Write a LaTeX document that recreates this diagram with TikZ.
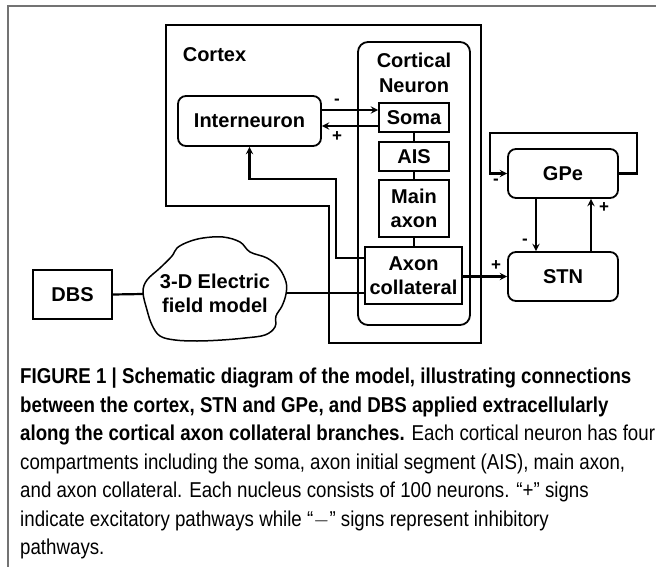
\documentclass[tikz,border=0pt]{standalone}
\usepackage{fontspec}
\setmainfont{Liberation Sans}
\newfontfamily\capfont[FakeStretch=0.87]{Liberation Sans}
\usetikzlibrary{calc}
\usetikzlibrary{arrows}

\tikzset{
  blk/.style={draw,line width=1.8pt,rectangle,align=center,inner sep=0pt,
    font=\bfseries\fontsize{20}{24}\selectfont},
  rblk/.style={blk,rounded corners=8pt},
  conn/.style={line width=2.2pt},
  sgn/.style={font=\bfseries\fontsize{17}{17}\selectfont,inner sep=0pt}
}

\begin{document}
\begin{tikzpicture}[>=stealth,x=1pt,y=-1pt]
                        \useasboundingbox (0,0) rectangle (656,567);
                        % frame
                        \draw[gray!90!black,line width=2pt] (7.5,567) -- (7.5,6) -- (656,6);
                        % cortex
                        \draw[line width=1.8pt] (166,25) -- (481,25) -- (481,343) -- (329,343) -- (329,206) -- (166,206) -- cycle;
                        \node[font=\bfseries\fontsize{20}{24}\selectfont] (cortex) at (214.5,55) {Cortex};
                        \draw[line width=1.8pt,rounded corners=10pt] (358,42) rectangle (470,325);
                        \node[font=\bfseries\fontsize{20}{25}\selectfont,align=center] (cnlab) at (414,73) {Cortical\\Neuron};
                        \node[rblk,minimum width=143pt,minimum height=50pt] (inter) at (249.5,121) {Interneuron};
                        \node[blk,minimum width=70pt,minimum height=29pt] (soma) at (414,117.5) {Soma};
                        \node[blk,minimum width=70pt,minimum height=29pt] (ais) at (414,156.5) {AIS};
                        \node[blk,minimum width=70pt,minimum height=57pt] (mainax) at (414,208.5) {Main\\axon};
                        \node[blk,minimum width=97pt,minimum height=57pt] (axcol) at (413.5,275.5) {Axon\\collateral};
                        \draw[conn] (soma) -- (ais);
                        \draw[conn] (ais) -- (mainax);
                        \draw[conn] (mainax) -- (axcol.north -| mainax);
                        % interneuron <-> soma
                        \draw[conn,->] (inter.east |- 0,110) -- (soma.west |- 0,110);
                        \draw[conn,->] (soma.west |- 0,126) -- (inter.east |- 0,126);
                        \node[sgn] (m1) at (337,102) {-};
                        \node[sgn] (p1) at (337,137) {+};
                        \draw[conn,->] (axcol.west |- 0,258) -| (336,179) -| (inter.south);
                        % DBS and field
                        \node[blk,minimum width=79pt,minimum height=49pt] (dbs) at (72.5,294.5) {DBS};
                        \draw[line width=1.5pt] plot[smooth cycle,tension=0.6] coordinates {(143,292) (147,280) (160,268) (172,256) (177,248) (188,242) (203,238) (223,237) (240,242) (250,252) (267,258) (279,268) (286,282) (286,294) (282,306) (276,316) (275,327) (265,335) (245,338) (222,340) (197,341) (175,340) (160,336) (152,325) (147,310)};
                        \node[font=\bfseries\fontsize{20}{24}\selectfont,align=center] (field) at (215,293) {3-D Electric\\field model};
                        \coordinate (cloudw) at (143,294);
                        \coordinate (cloude) at (286,293);
                        \draw[conn] (dbs.east) -- (cloudw);
                        \draw[conn] (cloude) -- (cloude -| axcol.west);
                        % basal ganglia
                        \node[rblk,minimum width=110pt,minimum height=49pt] (gpe) at (563,173.5) {GPe};
                        \node[rblk,minimum width=110pt,minimum height=49pt] (stn) at (563,276.5) {STN};
                        \draw[conn,->] (axcol.east |- stn.west) -- (stn.west);
                        \node[sgn] (p2) at (496,266) {+};
                        \draw[conn,->] (gpe.south -| 536,0) -- (stn.north -| 536,0);
                        \node[sgn] (m2) at (525,242) {-};
                        \draw[conn,->] (stn.north -| 591,0) -- (gpe.south -| 591,0);
                        \node[sgn] (p3) at (604,208) {+};
                        \draw[conn,->] (gpe.east) -- (637,173.5) |- (490,133) |- (gpe.west);
                        \node[sgn] (m3) at (496,182) {-};
                        % caption
                        \node[anchor=north west,align=left,inner sep=0pt,font=\capfont\fontsize{21.5}{28.5}\selectfont] (cap) at (20,368) {%
                          \textbf{FIGURE 1 | Schematic diagram of the model, illustrating connections}\\
                          \textbf{between the cortex, STN and GPe, and DBS applied extracellularly}\\
                          \textbf{along the cortical axon collateral branches.} Each cortical neuron has four\\
                          compartments including the soma, axon initial segment (AIS), main axon,\\
                          and axon collateral. Each nucleus consists of 100 neurons. “+” signs\\
                          indicate excitatory pathways while “$-$” signs represent inhibitory\\
                          pathways.};
                    \end{tikzpicture}
\end{document}
